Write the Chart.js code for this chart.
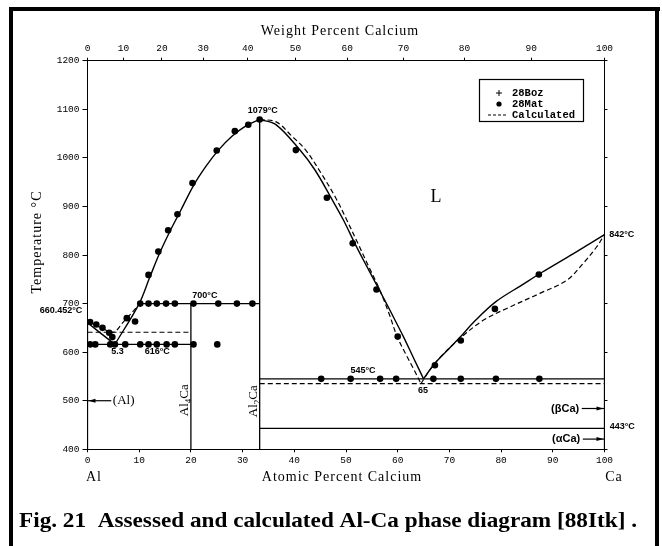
<!DOCTYPE html>
<html>
<head>
<meta charset="utf-8">
<script src="https://cdn.jsdelivr.net/npm/chart.js@4/dist/chart.umd.min.js"></script>
<style>
  html, body { margin: 0; padding: 0; background: #fff; }
  canvas { display: block; }
</style>
</head>
<body>
<canvas id="phase" width="662" height="546"></canvas>
<script>
// Al-Ca phase diagram: x = atomic percent Ca, y = temperature in degC

// assessed boundaries (solid)
var liquidusAl    = [[0, 660.452], [5.3, 616]];
var liquidusAl4Ca = [[5.3, 616], [10, 700], [12, 753], [14, 805], [16, 850], [18, 891], [20.5, 943],
                     [23, 984], [25.5, 1018], [28, 1045], [30.5, 1065], [33.3, 1079]];
var liquidusAl2Ca = [[33.3, 1079], [36.5, 1068], [41.1, 1016], [44, 975], [47.1, 918], [49.5, 872],
                     [51.7, 824], [54, 777], [56.4, 729], [58.8, 680], [61.1, 632], [63.2, 585], [65, 545]];
var liquidusCa    = [[65, 545], [67.2, 577], [70, 608], [72, 630], [75, 665], [79, 704], [84, 738],
                     [88, 765], [94, 803], [100, 842]];
var eutecticAl    = [[0, 616], [20, 616]];
var peritectic    = [[10, 700], [33.3, 700]];
var eutecticCa    = [[33.3, 545], [100, 545]];
var transitionCa  = [[33.3, 443], [100, 443]];
var lineAl4Ca     = [[20, 400], [20, 700]];
var lineAl2Ca     = [[33.3, 400], [33.3, 1079]];
var solidAl       = [[0, 400], [0, 660.452]];
var solidCa       = [[100, 400], [100, 842]];

// calculated boundaries (dashed)
var calcAlSide   = [[0, 660.452], [2.5, 651], [5, 641], [7, 663], [9.5, 692]];
var calcEutAl    = [[0, 641], [20, 641]];
var calcAl2Ca    = [[33.3, 1079], [36.5, 1074], [39.5, 1045], [42.2, 1016], [45.2, 968], [48, 918],
                    [50.2, 871], [52.3, 824], [54.4, 776], [56.5, 729], [58.3, 680], [59.9, 632],
                    [61.6, 595], [63.2, 563], [64.5, 535]];
var calcEutCa    = [[33.3, 535], [100, 535]];
var calcCaSide   = [[64.5, 535], [66, 560], [68.2, 589], [72, 628], [76.6, 666], [81.1, 690],
                    [87.5, 721], [92.7, 748], [95.9, 783], [98.5, 817], [100, 842]];

// measured points, 28Mat
var mat28 = [
  [0.5, 662], [1.7, 657], [2.9, 650], [4.2, 640], [4.8, 631], [7.6, 670], [9.2, 663],
  [0.5, 616], [1.5, 616], [4.4, 616], [5.3, 616], [7.3, 616], [10.2, 616], [11.8, 616], [13.4, 616],
  [15.3, 616], [16.9, 616], [20.5, 616], [25.1, 616],
  [10.2, 700], [11.8, 700], [13.4, 700], [15.2, 700], [16.9, 700], [20.5, 700], [25.3, 700], [28.9, 700], [31.9, 700],
  [11.8, 759], [13.7, 807], [15.6, 851], [17.4, 884], [20.3, 948], [25, 1015], [28.5, 1055], [31.1, 1068], [33.3, 1079],
  [40.3, 1016], [46.3, 918], [51.3, 824], [55.9, 729], [60, 632],
  [67.2, 573], [72.2, 624], [78.8, 689], [87.3, 760],
  [45.2, 545], [50.9, 545], [56.6, 545], [59.7, 545], [66.9, 545], [72.2, 545], [79, 545], [87.4, 545]
];
// measured points, 28Boz
var boz28 = [];

var atomicTicks = [0, 10, 20, 30, 40, 50, 60, 70, 80, 90, 100];
var weightTicks = [0, 10, 20, 30, 40, 50, 60, 70, 80, 90, 100];
var tempTicks   = [400, 500, 600, 700, 800, 900, 1000, 1100, 1200];

// weight % Ca -> atomic % Ca
var M_AL = 26.98, M_CA = 40.08;
function toAtomic(w) {
  var ca = w / M_CA, al = (100 - w) / M_AL;
  return 100 * ca / (ca + al);
}

function pts(a) { return a.map(function (p) { return { x: p[0], y: p[1] }; }); }

function solid(a) {
  return { data: pts(a), showLine: true, pointRadius: 0, borderColor: '#000', borderWidth: 1.4, tension: 0.35 };
}
function dashed(a) {
  return { data: pts(a), showLine: true, pointRadius: 0, borderColor: '#000', borderWidth: 1.2,
           borderDash: [5, 3], tension: 0.35 };
}
function straight(a) {
  return { data: pts(a), showLine: true, pointRadius: 0, borderColor: '#000', borderWidth: 1.3 };
}

var datasets = [
  solid(liquidusAl), solid(liquidusAl4Ca), solid(liquidusAl2Ca), solid(liquidusCa),
  straight(eutecticAl), straight(peritectic), straight(eutecticCa), straight(transitionCa),
  straight(lineAl4Ca), straight(lineAl2Ca), straight(solidAl), straight(solidCa),
  dashed(calcAlSide), dashed(calcEutAl), dashed(calcAl2Ca), dashed(calcEutCa), dashed(calcCaSide),
  { label: '28Mat', data: pts(mat28), pointRadius: 3.3, pointBackgroundColor: '#000', pointBorderWidth: 0 },
  { label: '28Boz', data: pts(boz28), pointStyle: 'cross', pointRadius: 4, borderColor: '#000' }
];

// text placed in data coordinates
var notes = [
  { t: '1079°C', x: 33.9, y: 1097, align: 'center', font: 'bold 9px "Liberation Sans"' },
  { t: '700°C', x: 22.7, y: 716, align: 'center', font: 'bold 9px "Liberation Sans"' },
  { t: '660.452°C', x: -1.0, y: 685, align: 'right', font: 'bold 9px "Liberation Sans"' },
  { t: '5.3', x: 5.8, y: 601, align: 'center', font: 'bold 9px "Liberation Sans"' },
  { t: '616°C', x: 13.5, y: 601, align: 'center', font: 'bold 9px "Liberation Sans"' },
  { t: '545°C', x: 53.3, y: 563, align: 'center', font: 'bold 9px "Liberation Sans"' },
  { t: '65', x: 64.9, y: 521, align: 'center', font: 'bold 9px "Liberation Sans"' },
  { t: '842°C', x: 100.9, y: 843, align: 'left', font: 'bold 9px "Liberation Sans"' },
  { t: '443°C', x: 101.0, y: 446, align: 'left', font: 'bold 9px "Liberation Sans"' },
  { t: '(βCa)', x: 95.1, y: 484, align: 'right', font: 'bold 11px "Liberation Sans"' },
  { t: '(αCa)', x: 95.3, y: 421, align: 'right', font: 'bold 11px "Liberation Sans"' },
  { t: '(Al)', x: 4.9, y: 500, align: 'left', font: '13px "Liberation Serif"' },
  { t: 'L', x: 67.4, y: 919, align: 'center', font: '18px "Liberation Serif"' }
];
// phase arrows pointing at the pure-element axes
var arrows = [
  { x1: 95.6, x2: 100, y: 484 },
  { x1: 95.8, x2: 100, y: 421 },
  { x1: 4.6, x2: 0, y: 500 }
];
// vertical compound labels
var compounds = [
  { a: 'Al', sub: '4', b: 'Ca', x: 18.7, y: 501 },
  { a: 'Al', sub: '2', b: 'Ca', x: 32.0, y: 499 }
];
var legendItems = [
  { sym: 'cross', text: '28Boz' },
  { sym: 'dot', text: '28Mat' },
  { sym: 'dash', text: 'Calculated' }
];

var decorations = {
  id: 'decorations',
  beforeDraw: function (chart) {
    var ctx = chart.ctx;
    ctx.save();
    ctx.fillStyle = '#fff';
    ctx.fillRect(0, 0, chart.width, chart.height);
    // page frame
    ctx.fillStyle = '#000';
    ctx.fillRect(9, 7, 4, 539);
    ctx.fillRect(9, 7, 651, 4);
    ctx.fillRect(655, 7, 4, 539);
    ctx.restore();
  },
  afterDraw: function (chart) {
    var ctx = chart.ctx, xs = chart.scales.x, ys = chart.scales.y;
    ctx.save();
    ctx.fillStyle = '#000';
    ctx.strokeStyle = '#000';
    ctx.textBaseline = 'middle';

    notes.forEach(function (n) {
      ctx.font = n.font;
      ctx.textAlign = n.align;
      ctx.fillText(n.t, xs.getPixelForValue(n.x), ys.getPixelForValue(n.y));
    });

    ctx.lineWidth = 1.2;
    arrows.forEach(function (a) {
      var p1 = xs.getPixelForValue(a.x1), p2 = xs.getPixelForValue(a.x2), py = ys.getPixelForValue(a.y);
      var dir = p2 > p1 ? 1 : -1;
      ctx.beginPath();
      ctx.moveTo(p1, py);
      ctx.lineTo(p2, py);
      ctx.stroke();
      ctx.beginPath();
      ctx.moveTo(p2 - dir * 1, py);
      ctx.lineTo(p2 - dir * 8, py - 2);
      ctx.lineTo(p2 - dir * 8, py + 2);
      ctx.closePath();
      ctx.fill();
    });

    compounds.forEach(function (c) {
      var px = xs.getPixelForValue(c.x), py = ys.getPixelForValue(c.y);
      ctx.save();
      ctx.translate(px, py);
      ctx.rotate(-Math.PI / 2);
      var big = '13px "Liberation Serif"', small = '9px "Liberation Serif"';
      ctx.font = big;
      var wa = ctx.measureText(c.a).width, wb = ctx.measureText(c.b).width;
      ctx.font = small;
      var ws = ctx.measureText(c.sub).width;
      var x0 = -(wa + ws + wb) / 2;
      ctx.textAlign = 'left';
      ctx.textBaseline = 'alphabetic';
      ctx.font = big;
      ctx.fillText(c.a, x0, 4);
      ctx.font = small;
      ctx.fillText(c.sub, x0 + wa, 7);
      ctx.font = big;
      ctx.fillText(c.b, x0 + wa + ws, 4);
      ctx.restore();
    });

    // legend box
    ctx.lineWidth = 1.2;
    ctx.strokeRect(479.5, 79.5, 104, 42);
    ctx.font = 'bold 10.5px "Liberation Mono"';
    ctx.textAlign = 'left';
    legendItems.forEach(function (it, i) {
      var yy = 93 + i * 11, sx = 499;
      if (it.sym === 'cross') {
        ctx.lineWidth = 1;
        ctx.beginPath();
        ctx.moveTo(sx - 3, yy); ctx.lineTo(sx + 3, yy);
        ctx.moveTo(sx, yy - 3); ctx.lineTo(sx, yy + 3);
        ctx.stroke();
      } else if (it.sym === 'dot') {
        ctx.beginPath();
        ctx.arc(sx, yy, 2.6, 0, Math.PI * 2);
        ctx.fill();
      } else {
        ctx.lineWidth = 1.2;
        ctx.setLineDash([3, 2]);
        ctx.beginPath();
        ctx.moveTo(488, yy); ctx.lineTo(507, yy);
        ctx.stroke();
        ctx.setLineDash([]);
      }
      ctx.fillText(it.text, 512, yy);
    });

    // axis titles
    ctx.textAlign = 'center';
    ctx.font = '14px "Liberation Serif"';
    ctx.letterSpacing = '1px';
    ctx.fillText('Weight Percent Calcium', 340, 31);
    ctx.fillText('Atomic Percent Calcium', 342, 477);
    ctx.fillText('Al', 94, 477);
    ctx.fillText('Ca', 614, 477);
    ctx.save();
    ctx.translate(37, 242);
    ctx.rotate(-Math.PI / 2);
    ctx.fillText('Temperature °C', 0, 0);
    ctx.restore();
    ctx.letterSpacing = '0px';

    // figure caption
    var cap = 'Fig. 21  Assessed and calculated Al-Ca phase diagram [88Itk] .';
    ctx.font = 'bold 21px "Liberation Serif"';
    var w = ctx.measureText(cap).width;
    ctx.save();
    ctx.translate(19, 522);
    ctx.scale(618 / w, 1);
    ctx.textAlign = 'left';
    ctx.fillText(cap, 0, 0);
    ctx.restore();

    ctx.restore();
  }
};

var tickFont = { family: '"Liberation Mono"', size: 9.5 };
var edge = { color: '#000', width: 1, dash: [1, 2] };
function plain(v) { return String(v); }

new Chart(document.getElementById('phase'), {
  type: 'scatter',
  data: { datasets: datasets },
  options: {
    responsive: false,
    animation: false,
    layout: { padding: 0 },
    plugins: { legend: { display: false }, tooltip: { enabled: false } },
    scales: {
      x: {
        type: 'linear', position: 'bottom', min: 0, max: 100,
        afterFit: function (s) { s.height = 96.7; },
        afterBuildTicks: function (s) { s.ticks = atomicTicks.map(function (v) { return { value: v }; }); },
        ticks: { color: '#000', font: tickFont, padding: 2, maxRotation: 0, autoSkip: false, callback: plain },
        grid: { drawOnChartArea: false, tickLength: 3, color: '#000' },
        border: edge
      },
      x2: {
        type: 'linear', position: 'top', min: 0, max: 100, display: true,
        afterFit: function (s) { s.height = 60.7; },
        afterBuildTicks: function (s) {
          s.ticks = weightTicks.map(function (w) { return { value: toAtomic(w) }; });
        },
        ticks: {
          color: '#000', font: tickFont, padding: 4, maxRotation: 0, autoSkip: false,
          callback: function (v, i) { return String(weightTicks[i]); }
        },
        grid: { drawOnChartArea: false, tickLength: 3, color: '#000' },
        border: edge
      },
      y: {
        type: 'linear', position: 'left', min: 400, max: 1200,
        afterFit: function (s) { s.width = 87.5; },
        afterBuildTicks: function (s) { s.ticks = tempTicks.map(function (v) { return { value: v }; }); },
        ticks: { color: '#000', font: tickFont, padding: 3, callback: plain },
        grid: { drawOnChartArea: false, tickLength: 5, color: '#000' },
        border: edge
      },
      y2: {
        type: 'linear', position: 'right', min: 400, max: 1200, display: true,
        afterFit: function (s) { s.width = 57.5; },
        afterBuildTicks: function (s) { s.ticks = tempTicks.map(function (v) { return { value: v }; }); },
        ticks: { display: false },
        grid: { drawOnChartArea: false, tickLength: 3, color: '#000' },
        border: edge
      }
    }
  },
  plugins: [decorations]
});
</script>
</body>
</html>
